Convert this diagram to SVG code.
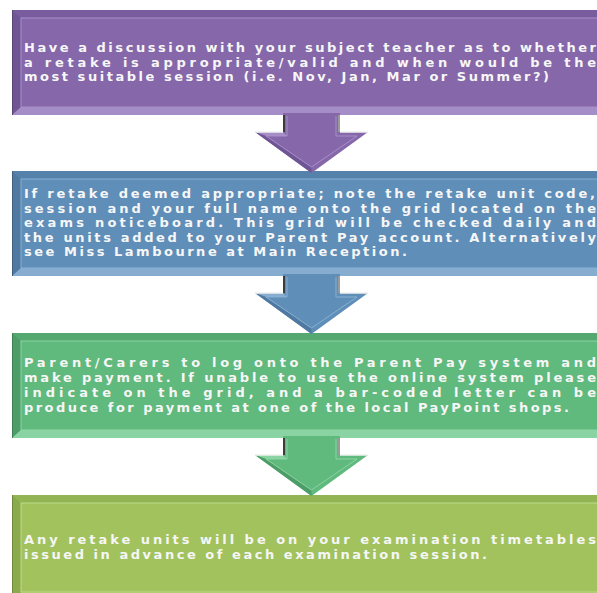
<svg xmlns="http://www.w3.org/2000/svg" width="597" height="593" viewBox="0 0 597 593">
<style>
text{font-family:"DejaVu Sans","Liberation Sans",sans-serif;font-weight:bold;font-size:13px;fill:#f6f6f6}
.pm{fill:#8567aa}.pd{fill:#705594}.pl{fill:#a58dc7}.ps{stroke:#a890c8}
.bm{fill:#5f8eb9}.bd{fill:#4f79a0}.bl{fill:#86acd0}.bs{stroke:#8ab0d2}
.gm{fill:#60b97d}.gd{fill:#4c9d68}.gl{fill:#8ad3a3}.gs{stroke:#8cd4a4}
.lm{fill:#a1c25c}.ld{fill:#8baa4b}.ll{fill:#bfd98a}.ls{stroke:#c0da8c}
.in{fill:none;stroke-width:1}
.sh{stroke:#3c3c3c;stroke-width:2;fill:none}
.hl{stroke:#f0f0f0;stroke-width:1.5;fill:none}
</style>
<rect width="597" height="593" fill="#ffffff"/>

<g id="step1">
<rect x="12" y="10" width="600" height="105" class="pm"/>
<polygon points="12,10 612,10 612,18 21,18" class="pd" opacity="0.6"/>
<polygon points="12,10 21,18 21,107 12,115" class="pd"/>
<polygon points="12,115 21,107 612,107 612,115" class="pl"/>
<rect x="21" y="18" width="600" height="89" class="in ps"/>
<line x1="12.5" y1="10" x2="12.5" y2="115" stroke="#5a4676" stroke-width="1"/>
<text x="24" y="52" textLength="572" lengthAdjust="spacing">Have a discussion with your subject teacher as to whether</text>
<text x="24" y="66.5" textLength="572" lengthAdjust="spacing">a retake is appropriate/valid and when would be the</text>
<text x="24" y="81" textLength="525" lengthAdjust="spacing">most suitable session (i.e. Nov, Jan, Mar or Summer?)</text>
</g>

<g id="step2">
<rect x="12" y="171" width="600" height="105" class="bm"/>
<polygon points="12,171 612,171 612,179 21,179" class="bd" opacity="0.6"/>
<polygon points="12,171 21,179 21,268 12,276" class="bd"/>
<polygon points="12,276 21,268 612,268 612,276" class="bl"/>
<rect x="21" y="179" width="600" height="89" class="in bs"/>
<line x1="12.5" y1="171" x2="12.5" y2="276" stroke="#3f5f7e" stroke-width="1"/>
<text x="24" y="198" textLength="571" lengthAdjust="spacing">If retake deemed appropriate; note the retake unit code,</text>
<text x="24" y="212.5" textLength="572" lengthAdjust="spacing">session and your full name onto the grid located on the</text>
<text x="24" y="227" textLength="572" lengthAdjust="spacing">exams noticeboard. This grid will be checked daily and</text>
<text x="24" y="241.5" textLength="572" lengthAdjust="spacing">the units added to your Parent Pay account. Alternatively</text>
<text x="24" y="256" textLength="383" lengthAdjust="spacing">see Miss Lambourne at Main Reception.</text>
</g>

<g id="step3">
<rect x="12" y="333" width="600" height="105" class="gm"/>
<polygon points="12,333 612,333 612,341 21,341" class="gd" opacity="0.6"/>
<polygon points="12,333 21,341 21,430 12,438" class="gd"/>
<polygon points="12,438 21,430 612,430 612,438" class="gl"/>
<rect x="21" y="341" width="600" height="89" class="in gs"/>
<line x1="12.5" y1="333" x2="12.5" y2="438" stroke="#3f7f55" stroke-width="1"/>
<text x="24" y="367" textLength="572" lengthAdjust="spacing">Parent/Carers to log onto the Parent Pay system and</text>
<text x="24" y="382" textLength="572" lengthAdjust="spacing">make payment. If unable to use the online system please</text>
<text x="24" y="397" textLength="572" lengthAdjust="spacing">indicate on the grid, and a bar-coded letter can be</text>
<text x="24" y="412" textLength="545" lengthAdjust="spacing">produce for payment at one of the local PayPoint shops.</text>
</g>

<g id="step4">
<rect x="12" y="495" width="600" height="110" class="lm"/>
<polygon points="12,495 612,495 612,503 21,503" class="ld" opacity="0.6"/>
<polygon points="12,495 21,503 21,600 12,605" class="ld"/>
<rect x="21" y="503" width="600" height="89" class="in ls"/>
<line x1="12.5" y1="495" x2="12.5" y2="600" stroke="#6f8a3a" stroke-width="1"/>
<text x="24" y="544" textLength="572" lengthAdjust="spacing">Any retake units will be on your examination timetables</text>
<text x="24" y="559" textLength="463" lengthAdjust="spacing">issued in advance of each examination session.</text>
</g>

<g id="connectors">
<g id="arrow1">
<polygon points="283,113 340,113 340,132 368,132 311.5,173 255,132 283,132" class="pm"/>
<polygon points="255,132 283,132 287,136 266,136" class="pl"/>
<polygon points="255,132 311.5,173 311.5,167 266,136" class="pd"/>
<polyline points="287,116 287,136 266,136 311.5,167 357,136 336,136 336,116" class="in ps"/>
<line x1="284" y1="115" x2="284" y2="132" class="sh"/>
<line x1="339" y1="115" x2="339" y2="132" stroke="#9a9a9a" stroke-width="2"/>
<line x1="255" y1="132" x2="283" y2="132" class="hl"/>
<line x1="340" y1="132" x2="368" y2="132" class="hl"/>
</g>
<g id="arrow2">
<polygon points="283,274 340,274 340,293 368,293 311.5,334 255,293 283,293" class="bm"/>
<polygon points="255,293 283,293 287,297 266,297" class="bl"/>
<polygon points="255,293 311.5,334 311.5,328 266,297" class="bd"/>
<polyline points="287,277 287,297 266,297 311.5,328 357,297 336,297 336,277" class="in bs"/>
<line x1="284" y1="276" x2="284" y2="293" class="sh"/>
<line x1="339" y1="276" x2="339" y2="293" stroke="#9a9a9a" stroke-width="2"/>
<line x1="255" y1="293" x2="283" y2="293" class="hl"/>
<line x1="340" y1="293" x2="368" y2="293" class="hl"/>
</g>
<g id="arrow3">
<polygon points="283,436 340,436 340,455 368,455 311.5,496 255,455 283,455" class="gm"/>
<polygon points="255,455 283,455 287,459 266,459" class="gl"/>
<polygon points="255,455 311.5,496 311.5,490 266,459" class="gd"/>
<polyline points="287,439 287,459 266,459 311.5,490 357,459 336,459 336,439" class="in gs"/>
<line x1="284" y1="438" x2="284" y2="455" class="sh"/>
<line x1="339" y1="438" x2="339" y2="455" stroke="#9a9a9a" stroke-width="2"/>
<line x1="255" y1="455" x2="283" y2="455" class="hl"/>
<line x1="340" y1="455" x2="368" y2="455" class="hl"/>
</g>
</g>
</svg>
